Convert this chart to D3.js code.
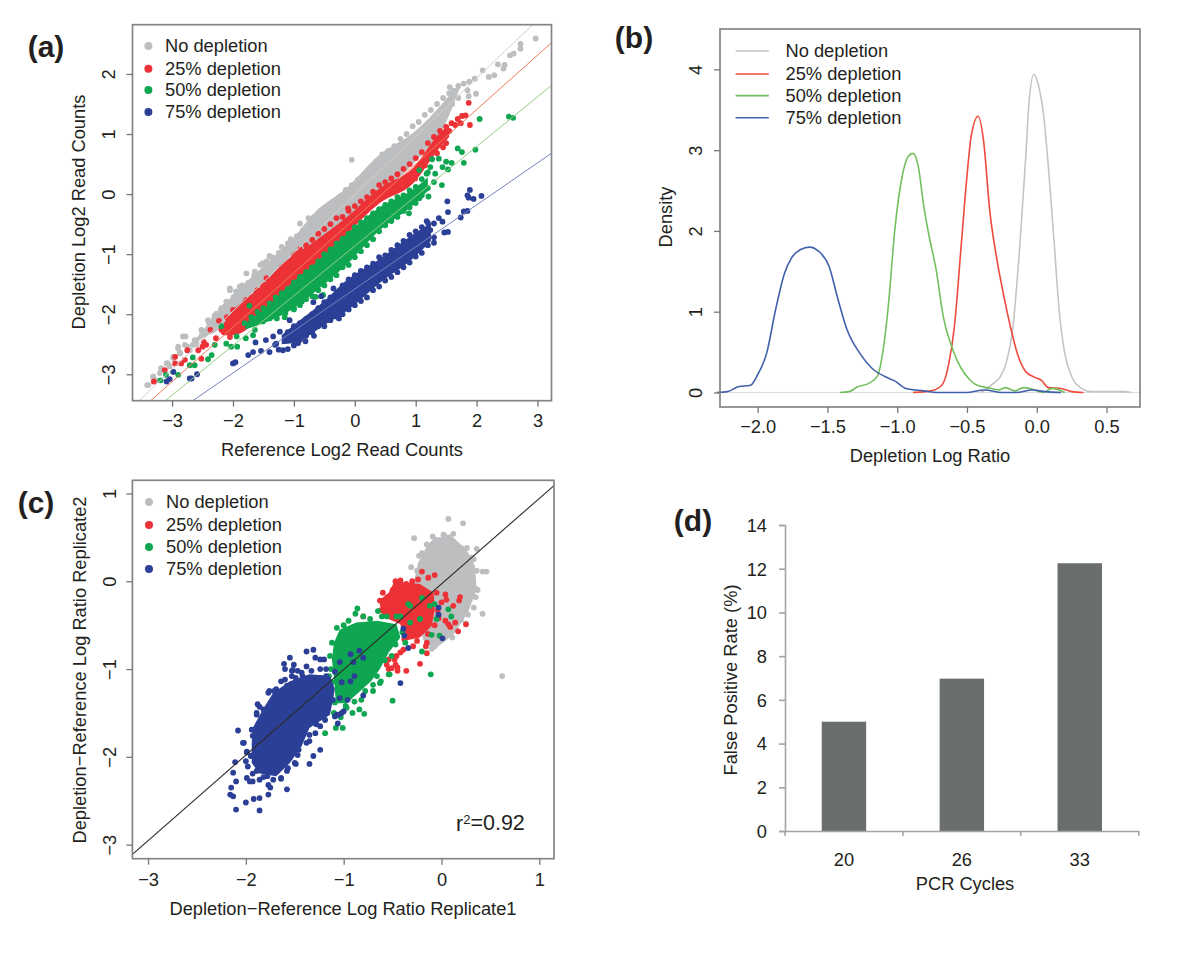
<!DOCTYPE html>
<html><head><meta charset="utf-8"><title>Depletion charts</title>
<script src="https://cdn.jsdelivr.net/npm/d3@7"></script>
<style>html,body{margin:0;padding:0;background:#fff}svg{display:block}text{font-family:"Liberation Sans",Arial,sans-serif;fill:#231f20}</style>
</head><body><svg id="c" width="1200" height="961"></svg>
<script>
const seriesNames=["No depletion","25% depletion","50% depletion","75% depletion"];
const pointColors=["#bcbec0","#ec3237","#0fa651","#2b3f96"];
const lineColors=["#c4c4c4","#ee4a3c","#72c05e","#4060ac"];
const fitColors=["#d0d0d0","#f07a5a","#94cc85","#7483bd"];

// Panel (a): fitted line end points [x1,y1,x2,y2]
const aFits=[[-3.54,-3.44,2.92,2.82],[-3.35,-3.44,3.23,2.52],[-3.11,-3.44,3.23,1.81],[-2.66,-3.44,3.23,0.68]];
// Panel (a): solid cores of overplotted points, x/top/bottom
const aCoreGrayX=[-2.6,-2,-1.5,-1,-.68,-.14,.41,.96,1.5,1.72];
const aCoreGrayTop=[-2.4,-1.68,-1.2,-.72,-.33,.1,.66,1.02,1.58,1.85];
const aCoreGrayBot=[-2.45,-2.1,-1.65,-1.25,-.9,-.5,.0,.5,1.2,1.75];
const aCoreRedX=[-2.15,-2,-1.5,-1.23,-.68,-.14,.41,.96,1.4,1.55];
const aCoreRedTop=[-2.15,-1.95,-1.5,-1.2,-.8,-.39,.1,.44,1.02,1.15];
const aCoreRedBot=[-2.35,-2.35,-2.0,-1.72,-1.22,-.68,-.15,.18,.78,.95];
const aCoreGreenX=[-1.8,-1.5,-1,-.68,-.14,.41,.96,1.2];
const aCoreGreenTop=[-2.15,-1.92,-1.45,-1.18,-.67,-.22,.08,.28];
const aCoreGreenBot=[-2.25,-2.15,-1.9,-1.65,-1.18,-.6,-.18,.05];
const aCoreBlueX=[-1.2,-1,-.5,-.14,.41,.96,1.25];
const aCoreBlueTop=[-2.35,-2.18,-1.78,-1.44,-1.08,-.67,-.48];
const aCoreBlueBot=[-2.5,-2.48,-2.18,-1.95,-1.48,-1.07,-.78];
// Panel (a): visible points
const aGray=[[2.97,2.59],[2.72,2.5],[2.72,2.42],[2.61,2.34],[2.55,2.31],[2.35,2.16],[2.46,2.15],[2.44,2.09],[2.1,2.06],[2.29,1.98],[2.2,1.95],[1.97,1.92],[1.88,1.87],[1.79,1.84],[1.99,1.67],[1.85,1.73],[1.87,1.63],[1.56,1.78],[-.05,.57],[-.9,-.49],[-.76,-.4],[-.67,-.38],[-1.4,-1.03],[-3.41,-3.18],[-3.31,-3.04],[-3.07,-2.82],[-2.98,-2.73],[-2.9,-2.57],[-2.78,-2.37],[-2.63,-2.43],[-2.51,-2.34],[-2.75,-2.54],[-2.87,-2.65],[-2.39,-2.15],[-2.31,-2.07],[-2.05,-1.57],[-1.99,-1.71],[-2.13,-1.87],[-1.87,-1.54],[-2.3,-2.02],[-2.2,-1.93],[-2.1,-1.8],[-1.95,-1.62],[-1.85,-1.52],[-1.75,-1.48],[-1.65,-1.35],[-1.55,-1.18],[-1.45,-1.12],[-1.35,-1.05],[-1.25,-.98],[-1.2,-.88],[-1.1,-.82],[-1.05,-.75],[-.95,-.7],[-.85,-.6],[-.75,-.55],[-.65,-.44],[-.55,-.33],[-.45,-.24],[-.35,-.14],[-.25,-.05],[-.15,.07],[-.05,.15],[.05,.24],[.15,.3],[.25,.4],[.35,.55],[.45,.66],[.55,.72],[.65,.8],[.75,.92],[.85,1.0],[.95,1.13],[1.05,1.2],[1.15,1.32],[1.25,1.4],[1.35,1.5],[1.45,1.6],[1.55,1.68],[1.62,1.72],[1.7,1.8],[1.4,1.25],[1.5,1.38],[1.6,1.5],[1.7,1.6],[-2.45,-2.3],[-2.6,-2.5],[-2.2,-2.15],[-2.82,-2.37],[-2.9,-2.54],[-2.98,-2.71],[-3.09,-2.82],[-3.2,-2.98],[-3.31,-3.04],[-3.39,-3.18],[-2.6,-2.43],[-2.71,-2.6],[-2.52,-2.26],[-2.38,-2.21],[-2.41,-2.1],[-2.27,-1.99],[-2.33,-2.26],[-2.66,-2.51],[-2.79,-2.51],[-2.87,-2.65],[-3.04,-2.87],[-3.18,-2.9],[-3.26,-3.1],[-2.05,-1.6],[-2,-1.76],[-1.89,-1.54],[-1.78,-1.32],[-1.64,-1.29],[-1.51,-1.15],[-1.4,-1.04],[-2.19,-1.9],[-2.11,-1.79],[-1.84,-1.65],[-1.62,-1.49]];
const aRed=[[1.87,1.52],[1.76,1.3],[1.82,1.31],[1.69,1.25],[1.89,1.15],[1.74,1.18],[1.59,1.18],[1.65,1.15],[.99,.26],[-3.3,-3.12],[-3.12,-2.93],[-2.95,-2.71],[-2.95,-2.82],[-2.85,-2.82],[-2.75,-2.6],[-2.79,-2.76],[-2.57,-2.6],[-2.52,-2.74],[-2.44,-2.51],[-2.48,-2.46],[-2.5,-2.54],[-2.37,-2.26],[-2.23,-2.11],[-2.28,-2.4],[-2.19,-2.26],[-2.08,-2.15],[-1.94,-1.93],[-2.03,-2.07],[-1.78,-1.76],[-1.51,-1.54],[-1.45,-1.4],[-1.29,-1.38],[-.96,-.99],[-1.67,-1.85],[-1.84,-1.99],[-1.89,-2.1],[-2,-2.21],[-1.62,-1.65],[-1.4,-1.65],[-1.23,-1.54],[-1.12,-1.32],[-1,-1.21],[-1.49,-1.51],[-1.52,-1.62],[-.96,-1.01],[-.11,-.24],[-2.1,-2.05],[-2,-1.93],[-1.9,-1.9],[-1.8,-1.8],[-1.7,-1.72],[-1.6,-1.6],[-1.5,-1.55],[-1.4,-1.45],[-1.3,-1.38],[-1.2,-1.22],[-1.1,-1.15],[-1,-1.02],[-.9,-.92],[-.8,-.85],[-.7,-.76],[-.6,-.66],[-.5,-.58],[-.4,-.5],[-.3,-.4],[-.2,-.38],[-.1,-.28],[0,-.2],[.1,-.12],[.2,-.05],[.3,.04],[.4,.15],[.5,.2],[.6,.26],[.7,.33],[.8,.42],[.9,.5],[1,.6],[1.1,.7],[1.2,.85],[1.3,.95],[1.4,1.05],[1.5,1.12],[1.55,1.05],[1.05,.38],[1.15,.48],[1.25,.6],[1.35,.68],[1.45,.78],[1.5,.85],[-2.15,-2.3],[-2.05,-2.38],[-1.95,-2.25],[-1.85,-2.2],[-1.75,-2.1],[-1.65,-2.0]];
const aGreen=[[2.53,1.29],[2.6,1.27],[2.05,1.25],[1.98,.74],[1.69,.76],[1.76,.7],[1.79,.52],[1.43,.15],[1.21,-.04],[1.27,.58],[1.38,.59],[1.5,.54],[1.59,.52],[1.44,.45],[1.53,.41],[1.24,.45],[1.06,.4],[1.32,.34],[1.18,.34],[1.06,-.07],[.89,-.32],[-3.19,-3.1],[-3.1,-3.01],[-2.9,-3.01],[-2.98,-2.96],[-2.71,-2.85],[-2.63,-2.85],[-2.66,-2.72],[-2.41,-2.75],[-2.35,-2.68],[-2.3,-2.51],[-2.19,-2.2],[-2.11,-2.49],[-2.03,-2.54],[-1.93,-2.54],[-1.94,-2.37],[-1.79,-2.4],[-1.67,-2.35],[-1.73,-1.86],[-1.81,-2.15],[-1.62,-2.07],[-1.45,-1.93],[-1.29,-1.93],[-1.15,-2.05],[-.96,-1.6],[-1.07,-1.71],[-1.51,-2.12],[-1.4,-2.07],[-1,-1.9],[-1.64,-2.26],[-1.28,-2.07],[-1.14,-1.98],[-.87,-1.79],[-.64,-1.71],[-.52,-1.68],[-1.2,-1.96],[-1.7,-2.05],[-1.6,-1.96],[-1.5,-1.9],[-1.4,-1.82],[-1.3,-1.72],[-1.2,-1.65],[-1.1,-1.58],[-1,-1.47],[-.9,-1.38],[-.8,-1.3],[-.7,-1.22],[-.6,-1.12],[-.5,-1.0],[-.4,-.92],[-.3,-.82],[-.2,-.74],[-.1,-.66],[0,-.55],[.1,-.47],[.2,-.4],[.3,-.32],[.4,-.25],[.5,-.18],[.6,-.12],[.7,-.05],[.8,-.02],[.9,.06],[1,.12],[1.1,.25],[1.2,.36],[-1,-1.92],[-.9,-1.85],[-.8,-1.75],[-.7,-1.7],[-.6,-1.6],[-.5,-1.52],[-.4,-1.42],[-.3,-1.35],[-.2,-1.22],[-.1,-1.18],[0,-1.05],[.1,-.95],[.2,-.85],[.3,-.75],[.4,-.62],[.5,-.52],[.6,-.45],[.7,-.38],[.8,-.28],[.9,-.22],[1,-.15],[1.1,-.02],[1.2,.1],[1.3,.2]];
const aBlue=[[1.89,.07],[1.85,-.02],[1.95,-.08],[1.87,-.06],[2.08,-.03],[1.52,-.12],[1.53,-.3],[1.79,-.29],[1.85,-.28],[1.74,-.39],[1.53,-.63],[1.47,-.64],[1.3,-.81],[1.18,-.45],[1.38,-.4],[1.3,-.49],[1.24,-.6],[1.44,-.46],[-3.09,-3.12],[-3.04,-3.08],[-2.98,-2.96],[-2.71,-3.07],[-2.68,-3.07],[-2.59,-3],[-2,-2.82],[-1.96,-2.8],[-1.75,-2.68],[-1.67,-2.63],[-1.63,-2.47],[-1.46,-2.43],[-1.54,-2.61],[-1.4,-2.63],[-1.18,-2.6],[-1.29,-2.49],[-1.34,-2.37],[-1.23,-2.29],[-1.07,-2.1],[-1.12,-2.37],[-.96,-2.32],[-1.25,-2.59],[-1.31,-2.51],[-.68,-1.8],[-.55,-1.7],[-.35,-1.57],[-.26,-2.07],[-.67,-2.36],[-.81,-2.45],[-.93,-2.48],[-1.1,-2.3],[-1,-2.2],[-.9,-2.15],[-.8,-2.08],[-.7,-2],[-.6,-1.9],[-.5,-1.8],[-.4,-1.72],[-.3,-1.65],[-.2,-1.52],[-.1,-1.42],[0,-1.35],[.1,-1.28],[.2,-1.22],[.3,-1.16],[.4,-1.05],[.5,-1.02],[.6,-.93],[.7,-.85],[.8,-.78],[.9,-.68],[1,-.62],[1.1,-.55],[1.2,-.48],[-1.1,-2.58],[-1,-2.52],[-.9,-2.42],[-.8,-2.36],[-.7,-2.3],[-.6,-2.2],[-.5,-2.2],[-.4,-2.1],[-.3,-2.04],[-.2,-2],[-.1,-1.92],[0,-1.85],[.1,-1.78],[.2,-1.72],[.3,-1.6],[.4,-1.54],[.5,-1.44],[.6,-1.38],[.7,-1.3],[.8,-1.22],[.9,-1.14],[1,-1.04],[1.1,-.98],[1.2,-.85],[1.3,-.72]];

// Panel (b): density curves
const bGrayX=[-.40,-.32,-.26,-.22,-.17,-.12,-.08,-.055,-.02,.01,.05,.085,.125,.16,.2,.25,.32,.39,.62,.68];
const bGrayD=[0,.1,.2,.36,.82,1.85,2.88,3.6,3.94,3.82,3.42,2.76,1.85,1.03,.49,.2,.05,.01,.01,0];
const bRedX=[-.887,-.76,-.68,-.63,-.59,-.54,-.5,-.47,-.42,-.38,-.338,-.286,-.24,-.184,-.133,-.08,-.018,.033,.084,.174,.25,.335];
const bRedD=[0,.02,.09,.36,.82,1.85,2.68,3.17,3.42,3.1,2.27,1.65,1.23,.78,.45,.26,.19,.15,.06,.05,.01,0];
const bGreenX=[-1.411,-1.347,-1.283,-1.207,-1.143,-1.104,-1.066,-1.015,-.964,-.925,-.887,-.849,-.81,-.772,-.721,-.67,-.606,-.542,-.491,-.427,-.325,-.274,-.222,-.158,-.095,-.031,.046,.11,.2];
const bGreenD=[0,.01,.07,.11,.2,.49,1.03,2.05,2.68,2.91,2.96,2.8,2.31,1.94,1.52,.94,.55,.3,.18,.09,.05,.03,.06,.02,.06,.04,0,.05,0];
const bBlueX=[-2.293,-2.216,-2.14,-2.05,-2.0,-1.935,-1.871,-1.807,-1.756,-1.692,-1.628,-1.564,-1.488,-1.424,-1.36,-1.27,-1.181,-1.092,-1.015,-.938,-.81,-.708,-.504,-.376,-.248,-.146,-.031,.059,.174];
const bBlueD=[0,.01,.07,.09,.22,.49,1.03,1.48,1.67,1.77,1.8,1.75,1.56,1.15,.78,.49,.3,.2,.14,.05,.02,0,0,.03,0,0,.03,.01,0];

// Panel (c): solid cores of overplotted points
const cCoreGray=[[-.07,.5],[.12,.5],[.26,.35],[.34,.18],[.36,-.09],[.27,-.36],[.12,-.61],[-.08,-.78],[-.19,-.66],[-.29,-.05],[-.24,.21],[-.15,.4]];
const cCoreRed=[[-.48,0],[-.22,-.03],[-.08,-.13],[-.07,-.32],[-.1,-.51],[-.22,-.64],[-.39,-.68],[-.42,-.49],[-.6,-.4],[-.64,-.22],[-.54,-.13]];
const cCoreGreen=[[-1.04,-.55],[-.87,-.47],[-.66,-.45],[-.46,-.49],[-.42,-.64],[-.54,-.81],[-.63,-1],[-.72,-1.14],[-.87,-1.29],[-.97,-1.39],[-1.08,-1.39],[-1.1,-1.1],[-1.12,-.89],[-1.1,-.7]];
const cCoreBlue=[[-1.55,-1.14],[-1.35,-1.06],[-1.14,-1.08],[-1.09,-1.23],[-1.14,-1.52],[-1.35,-1.67],[-1.43,-1.88],[-1.55,-2.07],[-1.69,-2.22],[-1.86,-2.19],[-1.94,-2.07],[-1.94,-1.84],[-1.93,-1.67],[-1.81,-1.43],[-1.72,-1.27]];
const cFit=[-3.16,-3.11,1.15,1.09];
// Panel (c): visible points
const cGray=[[.07,.71],[.22,.66],[-.28,.49],[-.09,.51],[.03,.52],[.12,.54],[-.15,.42],[-.23,.29],[-.31,.16],[.26,.38],[.36,.37],[.33,.25],[.36,.12],[.42,.11],[.46,.11],[.36,-.09],[.33,-.3],[.42,-.37],[.27,-.38],[.11,-.64],[-.07,-.74],[-.12,-.7],[.62,-1.08],[.25,-.48],[.02,.53],[.08,.5],[.15,.42],[.2,.38],[.3,.27],[.37,-.1],[.35,-.18],[-.2,.32],[-.25,.12],[-.05,.45],[.2,-.44],[.15,-.55],[.05,-.62],[-.05,-.7],[-.1,-.77]];
const cRed=[[-.2,.11],[-.07,.07],[-.135,.04],[-.24,.02],[-.47,0],[-.36,-.03],[-.63,-.22],[-.8,-.4],[-.22,-.94],[-.56,-.95],[-.42,-.81],[-.46,-.85],[-.36,-1.02],[-.45,-.98],[-.51,-.99],[-.15,-.82],[-.15,-.7],[-.29,-.74],[-.39,-.78],[-.48,-.89],[-.54,-.89],[-.05,-.13],[.04,-.15],[0,-.24],[.05,-.21],[.19,-.18],[.18,-.22],[.12,-.28],[.04,-.45],[.07,-.49],[.14,-.47],[.25,-.49],[.17,-.57],[.09,-.52],[-.54,-1],[-.45,-1.02],[-.47,-.95],[-.38,-.66],[-.25,-.68],[-.16,-.74],[-.14,-.6],[-.55,-.18],[-.42,.01],[-.3,0],[-.07,-.5],[-.03,-.42],[-.04,-.33],[-.62,-.33],[-.56,-.38],[-.6,-.13],[-.5,-.1]];
const cGreen=[[-.86,-.31],[-.88,-.37],[-1.07,-.53],[-1.12,-.7],[-1.14,-.85],[-.73,-.43],[-.61,-.4],[-.65,-.34],[-.46,-.4],[-.34,-.26],[-.32,-.28],[-.2,-.19],[-.12,-.28],[-.07,-.26],[.07,-.32],[.1,-.4],[-.22,-.43],[-.05,-.43],[-.32,-.47],[-.1,-.61],[-.02,-.62],[-.2,-.8],[-.11,-1.06],[-.37,-.7],[-.51,-.85],[-.53,-1.06],[-.63,-1.16],[-.56,-.4],[-.42,-.4],[-.5,-1.36],[-.54,-1.06],[-.62,-1.14],[-.79,-1.51],[-.84,-1.46],[-.91,-1.5],[-1.01,-1.67],[-1.08,-1.67],[-1.19,-1.73],[-1.15,-1.33],[-1.09,-1.38],[-.98,-1.42],[-.89,-1.37],[-.8,-.4],[-1,-.5],[-.95,-.45],[-1.13,-1],[-1.12,-1.15],[-1.05,-1.25],[-.97,-1.44],[-.78,-1.25],[-.7,-1.18],[-.66,-1.08],[-.58,-.9],[-.47,-.72],[-.4,-.58],[-.7,-1.25],[-.82,-1.35],[-1.16,-1.25],[-1.2,-1.4],[-1.1,-1.5],[-1.03,-1.55],[-1.15,-1.08]];
const cBlue=[[-.03,-.3],[-.03,-.38],[.01,-.65],[-.39,-.54],[-.38,-.62],[-.34,-.76],[-.42,-1.16],[-.8,-1.3],[-.89,-1.08],[-.93,-1.14],[-1.02,-1.15],[-1.04,-.92],[-.93,-.83],[-.84,-.79],[-.8,-.87],[-.9,-.92],[-.96,-1.35],[-1.04,-1.33],[-1.29,-.87],[-1.38,-.8],[-1.31,-.78],[-1.55,-.87],[-1.61,-.94],[-1.51,-.95],[-1.6,-1],[-1.53,-1.02],[-1.24,-.89],[-1.2,-.89],[-1.33,-1.02],[-1.38,-.97],[-1.47,-1.02],[-1.18,-1],[-1.24,-1],[-1.6,-1.12],[-1.49,-1.1],[-1.71,-1.25],[-1.77,-1.27],[-1.88,-1.4],[-1.89,-1.5],[-2.08,-1.7],[-2.02,-1.84],[-1.99,-1.95],[-2,-2.05],[-2.11,-2.06],[-2.13,-2.18],[-2.1,-2.28],[-2.15,-2.35],[-2.16,-2.43],[-2.13,-2.45],[-2,-2.52],[-2.1,-2.6],[-1.92,-2.48],[-1.86,-2.47],[-1.86,-2.61],[-1.77,-2.43],[-1.99,-2.24],[-1.93,-2.28],[-1.86,-2.26],[-1.77,-2.32],[-1.75,-2.35],[-1.64,-2.24],[-1.58,-2.37],[-1.35,-2.08],[-1.31,-1.99],[-1.49,-2.08],[-1.24,-1.92],[-1.35,-1.82],[-1.29,-1.73],[-1.02,-1.5],[-1.09,-1.54],[-1.24,-1.65],[-1.42,-1.73],[-1.46,-1.92],[-1.6,-2.07],[-1.58,-2.16],[-1.68,-2.16],[-1.78,-2.22],[-1.89,-2.16],[-1.95,-1.99],[-1.93,-1.76],[-1.86,-1.65],[-1.82,-1.46],[-1.69,-1.31],[-1.58,-1.19],[-1.42,-1.08],[-1.27,-1.14],[-1.16,-1.25],[-1.05,-1.52],[-1.64,-1.14],[-1.69,-1.23],[-1.76,-1.25],[-1.86,-1.43],[-1.89,-1.52],[-1.94,-1.69],[-2.03,-1.84],[-1.99,-1.94],[-1.93,-1.98],[-1.98,-2.11],[-1.93,-2.19],[-1.96,-2.28],[-1.82,-2.23],[-1.64,-2.25],[-1.72,-2.26],[-1.57,-2.13],[-1.5,-2.07],[-1.47,-1.98],[-1.38,-1.84],[-1.35,-1.75],[-1.28,-1.63],[-1.19,-1.58],[-1.07,-1.52],[-1.19,-1.44],[-1,-1.48],[-1.11,-1.35],[-1.06,-1.62],[-1.52,-1.01],[-1.43,-1.04],[-1.33,-1.12],[-1.24,-1.1],[-1.18,-1.08],[-1.09,-1.03],[-1.53,-1.08]];

// Panel (d)
const dCycles=["20","26","33"];
const dRates=[5.0,6.97,12.25];

const svg=d3.select("#c");
const T=(t,x,y,size,opt={})=>{
  const n=svg.append("text").attr("x",x).attr("y",y).attr("font-size",size).attr("dy",".35em")
    .attr("text-anchor",opt.anchor||"middle").text(t);
  if(opt.bold)n.attr("font-weight","bold");
  if(opt.rot)n.attr("transform",`rotate(-90 ${x} ${y})`);
  return n;
};
const FS=18.3;

function frame(x,y,xt,yt,xLabelY,yLabelX,xFmt){
  const [l,r]=x.range(),[b,t]=y.range();
  svg.append("rect").attr("x",l).attr("y",t).attr("width",r-l).attr("height",b-t)
     .attr("fill","none").attr("stroke","#858585").attr("stroke-width",1.7);
  const ax=svg.append("g").attr("transform",`translate(0,${b})`)
    .call(d3.axisBottom(x).tickValues(xt).tickSize(6).tickFormat(xFmt));
  ax.select(".domain").remove();
  ax.selectAll("line").attr("stroke","#777").attr("stroke-width",1.3);
  ax.selectAll("text").attr("y",xLabelY-b).attr("dy",".35em").attr("font-size",FS);
  const ay=svg.append("g").attr("transform",`translate(${l},0)`)
    .call(d3.axisLeft(y).tickValues(yt).tickSize(6).tickFormat(d3.format("d")));
  ay.select(".domain").remove();
  ay.selectAll("line").attr("stroke","#777").attr("stroke-width",1.3);
  ay.selectAll("text").attr("x",0).attr("dy",0).attr("font-size",FS).attr("text-anchor","middle")
    .attr("transform",`translate(${yLabelX-l},0) rotate(-90) translate(0,6.5)`);
}
const dots=(pts,x,y,color,g)=>g.append("g").attr("fill",color).selectAll("circle").data(pts).join("circle")
  .attr("cx",d=>x(d[0])).attr("cy",d=>y(d[1])).attr("r",2.9);
function pointLegend(px,tx,ys){
  seriesNames.forEach((n,i)=>{
    svg.append("circle").attr("cx",px).attr("cy",ys[i]).attr("r",4).attr("fill",pointColors[i]);
    T(n,tx,ys[i],FS,{anchor:"start"});
  });
}

// ---------- (a)
{
  const x=d3.scaleLinear([-3.65,3.23],[132.5,551.5]);
  const y=d3.scaleLinear([-3.44,2.82],[400.7,24.7]);
  const g=svg.append("g");
  const band=(xs,top,bot,c)=>g.append("path").attr("fill",c)
    .attr("d",d3.area().x((d,i)=>x(xs[i])).y0((d,i)=>y(bot[i])).y1((d,i)=>y(top[i])).curve(d3.curveMonotoneX)(xs));
  const sets=[[aCoreGrayX,aCoreGrayTop,aCoreGrayBot,aGray],[aCoreRedX,aCoreRedTop,aCoreRedBot,aRed],
              [aCoreGreenX,aCoreGreenTop,aCoreGreenBot,aGreen],[aCoreBlueX,aCoreBlueTop,aCoreBlueBot,aBlue]];
  sets.forEach((s,i)=>{band(s[0],s[1],s[2],pointColors[i]);dots(s[3],x,y,pointColors[i],g);});
  aFits.forEach((f,i)=>svg.append("line").attr("x1",x(f[0])).attr("y1",y(f[1])).attr("x2",x(f[2])).attr("y2",y(f[3]))
    .attr("stroke",fitColors[i]).attr("stroke-width",1));
  frame(x,y,[-3,-2,-1,0,1,2,3],[-3,-2,-1,0,1,2],421,108.5,d3.format("d"));
  pointLegend(148.4,165,[46,68.7,90,112]);
  T("Reference Log2 Read Counts",342,450,FS);
  T("Depletion Log2 Read Counts",79,212,FS,{rot:true});
  T("(a)",46,46,30,{bold:true});
}
// ---------- (b)
{
  const x=d3.scaleLinear([-2.27,0.74],[720,1140]);
  const y=d3.scaleLinear([-.18,4.5],[407,29]);
  const g=svg.append("g");
  g.append("line").attr("x1",720).attr("x2",1140).attr("y1",y(0)).attr("y2",y(0)).attr("stroke","#dcdcdc").attr("stroke-width",1);
  const ln=d3.line().x(d=>x(d[0])).y(d=>y(d[1])).curve(d3.curveMonotoneX);
  [[bGrayX,bGrayD],[bRedX,bRedD],[bGreenX,bGreenD],[bBlueX,bBlueD]].forEach((s,i)=>
    g.append("path").attr("fill","none").attr("stroke",lineColors[i]).attr("stroke-width",1.6)
     .attr("d",ln(s[0].map((v,k)=>[v,s[1][k]]))));
  frame(x,y,[-2,-1.5,-1,-.5,0,.5],[0,1,2,3,4],427,695.6,d3.format(".1f"));
  [51,74,95.6,117.7].forEach((yy,i)=>{
    svg.append("line").attr("x1",735.6).attr("x2",768.8).attr("y1",yy).attr("y2",yy).attr("stroke",lineColors[i]).attr("stroke-width",1.6);
    T(seriesNames[i],785.5,yy,FS,{anchor:"start"});
  });
  T("Depletion Log Ratio",930,456,FS);
  T("Density",666,217,FS,{rot:true});
  T("(b)",634,37,30,{bold:true});
}
// ---------- (c)
{
  const x=d3.scaleLinear([-3.16,1.15],[132.4,554]);
  const y=d3.scaleLinear([-3.16,1.15],[858.7,480.3]);
  const g=svg.append("g");
  const blob=d3.line().x(d=>x(d[0])).y(d=>y(d[1])).curve(d3.curveLinearClosed);
  [[cCoreGray,cGray],[cCoreRed,cRed],[cCoreGreen,cGreen],[cCoreBlue,cBlue]].forEach((s,i)=>{
    g.append("path").attr("fill",pointColors[i]).attr("d",blob(s[0]));
    dots(s[1],x,y,pointColors[i],g);
  });
  svg.append("line").attr("x1",x(cFit[0])).attr("y1",y(cFit[1])).attr("x2",x(cFit[2])).attr("y2",y(cFit[3]))
    .attr("stroke","#2b2b2b").attr("stroke-width",1.1);
  frame(x,y,[-3,-2,-1,0,1],[-3,-2,-1,0,1],880,110,d3.format("d"));
  pointLegend(149,166,[502,525,547,569]);
  T("Depletion\u2212Reference Log Ratio Replicate1",343,909,FS);
  T("Depletion\u2212Reference Log Ratio Replicate2",80,670,FS,{rot:true});
  const r=T("",456,823,21.5,{anchor:"start"});
  r.append("tspan").text("r");
  r.append("tspan").text("2").attr("font-size",13).attr("dy","-.5em");
  r.append("tspan").text("=0.92").attr("dy",".3em");
  T("(c)",36,502,30,{bold:true});
}
// ---------- (d)
{
  const x=d3.scaleBand(dCycles,[785,1138.7]).paddingInner(.623).paddingOuter(.3115);
  const y=d3.scaleLinear([0,14],[831,525]);
  svg.append("g").attr("fill","#6b6e6e").selectAll("rect").data(dRates).join("rect")
    .attr("x",(d,i)=>x(dCycles[i])).attr("width",x.bandwidth()).attr("y",d=>y(d)).attr("height",d=>y(0)-y(d));
  const ay=svg.append("g").attr("transform","translate(785,0)").call(d3.axisLeft(y).tickValues(d3.range(0,15,2)).tickSize(6));
  ay.selectAll("line,path").attr("stroke","#a3a3a3").attr("stroke-width",1.6);
  ay.selectAll("text").attr("font-size",FS).attr("x",-18).attr("dy",".35em");
  const ax=svg.append("g").attr("transform","translate(0,831)").call(d3.axisBottom(x).tickSize(0));
  ax.select(".domain").attr("stroke","#a3a3a3").attr("stroke-width",1.6);
  ax.selectAll("line").remove();
  ax.selectAll("text").attr("font-size",FS).attr("y",29).attr("dy",".35em");
  const edges=[785,...dCycles.map(c=>x(c)+x.bandwidth()+x.step()*.3115*1)];
  svg.append("g").selectAll("line").data(edges).join("line")
    .attr("x1",d=>d).attr("x2",d=>d).attr("y1",831).attr("y2",836).attr("stroke","#a3a3a3").attr("stroke-width",1.6);
  T("PCR Cycles",965,884,FS);
  T("False Positive Rate (%)",730.7,680,FS,{rot:true});
  T("(d)",693,520,30,{bold:true});
}
</script></body></html>
